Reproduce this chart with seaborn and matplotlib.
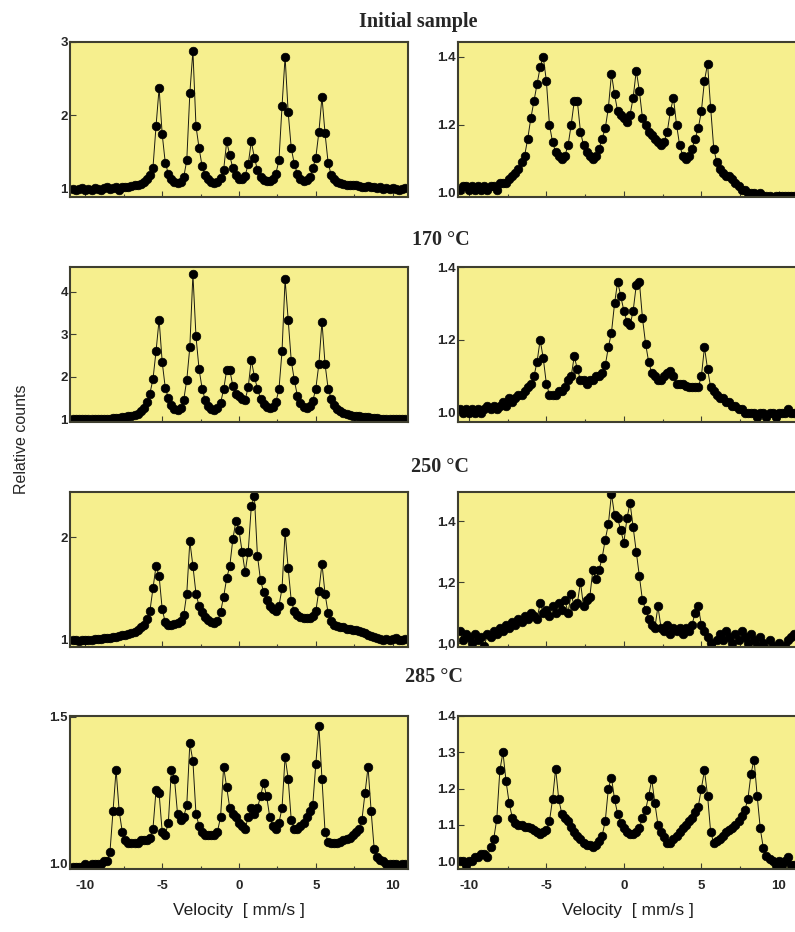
import numpy as np
import pandas as pd
import matplotlib
matplotlib.use("Agg")
import matplotlib.pyplot as plt
import seaborn as sns
from matplotlib.ticker import FixedLocator, MultipleLocator

# ---------------- data (relative counts) ----------------
# velocity channels: left column starts at -10.8 mm/s, right column at -10.6 mm/s, step 0.2 mm/s
left_v_start = -10.8
right_v_start = -10.6
v_step = 0.2

initial_left = [0.99, 0.98, 0.99, 1.00, 0.98, 0.99, 0.98, 1.00, 0.99, 0.98,
                1.00, 1.01, 0.99, 1.00, 1.01, 0.98, 1.01, 1.02, 1.02, 1.03,
                1.04, 1.05, 1.06, 1.08, 1.12, 1.18, 1.28, 1.85, 2.37, 1.74,
                1.35, 1.20, 1.12, 1.08, 1.07, 1.09, 1.15, 1.38, 2.30, 2.88,
                1.85, 1.55, 1.30, 1.18, 1.12, 1.08, 1.07, 1.09, 1.14, 1.25,
                1.64, 1.45, 1.27, 1.18, 1.13, 1.12, 1.17, 1.33, 1.64, 1.42,
                1.25, 1.15, 1.11, 1.10, 1.10, 1.13, 1.20, 1.38, 2.12, 2.80,
                2.04, 1.55, 1.33, 1.20, 1.13, 1.10, 1.11, 1.15, 1.27, 1.42,
                1.77, 2.25, 1.75, 1.35, 1.18, 1.12, 1.09, 1.07, 1.06, 1.05,
                1.05, 1.04, 1.04, 1.03, 1.02, 1.02, 1.03, 1.01, 1.01, 1.00,
                1.01, 0.99, 1.00, 0.99, 1.00, 0.99, 0.98, 0.99, 1.00]

initial_right = [1.01, 1.02, 1.02, 1.01, 1.02, 1.01, 1.02, 1.01, 1.02, 1.01,
                 1.02, 1.02, 1.01, 1.03, 1.03, 1.03, 1.04, 1.05, 1.06, 1.07,
                 1.09, 1.11, 1.16, 1.22, 1.27, 1.32, 1.37, 1.40, 1.33, 1.20,
                 1.15, 1.12, 1.11, 1.10, 1.11, 1.14, 1.20, 1.27, 1.27, 1.18,
                 1.14, 1.12, 1.11, 1.10, 1.11, 1.13, 1.16, 1.19, 1.25, 1.35,
                 1.29, 1.24, 1.23, 1.22, 1.21, 1.23, 1.28, 1.36, 1.30, 1.22,
                 1.20, 1.18, 1.17, 1.16, 1.15, 1.14, 1.15, 1.18, 1.24, 1.28,
                 1.20, 1.14, 1.11, 1.10, 1.11, 1.13, 1.16, 1.19, 1.24, 1.33,
                 1.38, 1.25, 1.13, 1.09, 1.07, 1.06, 1.05, 1.05, 1.04, 1.03,
                 1.02, 1.01, 1.01, 1.00, 1.00, 1.00, 0.99, 1.00, 0.99, 0.99,
                 0.99, 0.98, 0.99, 0.99, 0.99, 0.99, 0.99, 0.99, 0.99]

t170_left = [1.00, 0.99, 1.00, 0.99, 1.00, 1.00, 1.01, 1.00, 1.01, 1.00,
             1.01, 1.00, 1.01, 1.02, 1.02, 1.03, 1.04, 1.05, 1.06, 1.08,
             1.10, 1.13, 1.18, 1.25, 1.40, 1.60, 1.94, 2.60, 3.35, 2.35,
             1.74, 1.50, 1.33, 1.24, 1.21, 1.25, 1.45, 1.92, 2.70, 4.42,
             2.95, 2.18, 1.72, 1.45, 1.30, 1.24, 1.22, 1.26, 1.38, 1.70,
             2.16, 2.16, 1.78, 1.60, 1.55, 1.48, 1.45, 1.75, 2.40, 2.00,
             1.72, 1.48, 1.35, 1.28, 1.25, 1.28, 1.40, 1.70, 2.60, 4.30,
             3.35, 2.38, 1.92, 1.55, 1.38, 1.28, 1.26, 1.30, 1.42, 1.72,
             2.30, 3.30, 2.30, 1.72, 1.48, 1.32, 1.24, 1.18, 1.14, 1.12,
             1.10, 1.08, 1.07, 1.06, 1.05, 1.04, 1.04, 1.03, 1.02, 1.02,
             1.01, 1.01, 1.00, 1.01, 1.00, 1.01, 1.00, 1.00, 1.01]

t170_right = [1.01, 1.00, 1.01, 1.00, 1.01, 1.00, 1.01, 1.00, 1.01, 1.02,
              1.01, 1.02, 1.01, 1.02, 1.03, 1.02, 1.04, 1.03, 1.04, 1.05,
              1.05, 1.06, 1.07, 1.08, 1.10, 1.14, 1.20, 1.15, 1.08, 1.05,
              1.05, 1.05, 1.06, 1.06, 1.07, 1.09, 1.10, 1.155, 1.12, 1.09,
              1.09, 1.08, 1.09, 1.09, 1.10, 1.10, 1.11, 1.13, 1.18, 1.22,
              1.30, 1.36, 1.32, 1.28, 1.25, 1.24, 1.28, 1.35, 1.36, 1.26,
              1.19, 1.14, 1.11, 1.10, 1.09, 1.09, 1.10, 1.11, 1.115, 1.10,
              1.08, 1.08, 1.08, 1.075, 1.07, 1.07, 1.07, 1.07, 1.10, 1.18,
              1.12, 1.07, 1.06, 1.05, 1.04, 1.04, 1.03, 1.03, 1.02, 1.02,
              1.01, 1.01, 1.00, 1.00, 1.00, 1.00, 0.99, 1.00, 1.00, 0.99,
              1.00, 1.00, 0.99, 1.00, 1.00, 1.00, 1.01, 1.00, 1.00]

t250_left = [1.00, 1.00, 0.99, 1.00, 1.00, 1.00, 1.00, 1.01, 1.01, 1.01,
             1.02, 1.02, 1.02, 1.03, 1.03, 1.04, 1.05, 1.05, 1.06, 1.07,
             1.08, 1.10, 1.12, 1.14, 1.20, 1.28, 1.50, 1.72, 1.62, 1.30,
             1.17, 1.14, 1.14, 1.15, 1.16, 1.18, 1.24, 1.45, 1.96, 1.72,
             1.45, 1.33, 1.27, 1.22, 1.19, 1.17, 1.16, 1.18, 1.27, 1.42,
             1.60, 1.72, 1.98, 2.16, 2.07, 1.86, 1.66, 1.86, 2.30, 2.40,
             1.82, 1.58, 1.47, 1.39, 1.33, 1.30, 1.28, 1.33, 1.50, 2.05,
             1.70, 1.38, 1.28, 1.24, 1.22, 1.21, 1.21, 1.21, 1.23, 1.28,
             1.48, 1.74, 1.45, 1.26, 1.18, 1.14, 1.13, 1.12, 1.12, 1.11,
             1.11, 1.10, 1.10, 1.09, 1.08, 1.07, 1.05, 1.04, 1.03, 1.02,
             1.01, 1.00, 1.01, 1.00, 1.01, 1.02, 1.00, 1.00, 1.01]

t250_right = [1.04, 1.01, 1.03, 1.02, 1.00, 1.03, 1.01, 1.02, 0.99, 1.03,
              1.02, 1.04, 1.03, 1.05, 1.04, 1.06, 1.05, 1.07, 1.06, 1.08,
              1.07, 1.09, 1.08, 1.10, 1.09, 1.08, 1.13, 1.10, 1.11, 1.09,
              1.12, 1.10, 1.13, 1.11, 1.14, 1.10, 1.16, 1.12, 1.13, 1.20,
              1.12, 1.14, 1.15, 1.24, 1.21, 1.24, 1.28, 1.34, 1.39, 1.49,
              1.42, 1.41, 1.37, 1.33, 1.41, 1.46, 1.38, 1.30, 1.22, 1.14,
              1.11, 1.08, 1.06, 1.05, 1.12, 1.05, 1.04, 1.06, 1.03, 1.05,
              1.04, 1.05, 1.03, 1.05, 1.04, 1.06, 1.10, 1.12, 1.06, 1.04,
              1.02, 1.00, 0.97, 1.01, 1.03, 1.01, 1.04, 1.02, 1.00, 1.03,
              1.01, 1.04, 1.02, 1.00, 1.03, 1.01, 0.99, 1.02, 1.00, 0.98,
              1.01, 0.99, 0.98, 1.00, 0.97, 0.99, 1.01, 1.02, 1.03]

t285_left = [0.99, 0.99, 0.99, 0.99, 1.00, 0.99, 1.00, 1.00, 1.00, 1.00,
             1.01, 1.01, 1.04, 1.18, 1.32, 1.18, 1.11, 1.08, 1.07, 1.07,
             1.07, 1.07, 1.08, 1.08, 1.08, 1.09, 1.12, 1.25, 1.24, 1.11,
             1.10, 1.14, 1.32, 1.29, 1.17, 1.15, 1.16, 1.20, 1.41, 1.35,
             1.17, 1.13, 1.11, 1.10, 1.10, 1.10, 1.10, 1.11, 1.16, 1.33,
             1.26, 1.19, 1.17, 1.16, 1.14, 1.13, 1.12, 1.16, 1.19, 1.17,
             1.19, 1.23, 1.275, 1.23, 1.16, 1.13, 1.12, 1.14, 1.19, 1.365,
             1.29, 1.15, 1.12, 1.12, 1.13, 1.14, 1.16, 1.18, 1.20, 1.34,
             1.47, 1.29, 1.11, 1.075, 1.07, 1.07, 1.07, 1.075, 1.08, 1.085,
             1.09, 1.10, 1.11, 1.12, 1.15, 1.24, 1.33, 1.18, 1.05, 1.025,
             1.015, 1.01, 1.00, 1.00, 1.00, 1.00, 0.99, 1.00, 1.00]

t285_right = [1.00, 1.00, 0.99, 1.00, 1.00, 1.01, 1.01, 1.02, 1.02, 1.01,
              1.04, 1.06, 1.115, 1.25, 1.30, 1.22, 1.16, 1.12, 1.105, 1.10,
              1.10, 1.095, 1.095, 1.09, 1.085, 1.08, 1.075, 1.08, 1.085, 1.11,
              1.17, 1.255, 1.17, 1.13, 1.12, 1.11, 1.095, 1.08, 1.07, 1.06,
              1.05, 1.045, 1.045, 1.04, 1.045, 1.055, 1.07, 1.11, 1.20, 1.23,
              1.17, 1.13, 1.105, 1.09, 1.08, 1.075, 1.075, 1.08, 1.09, 1.12,
              1.14, 1.18, 1.225, 1.16, 1.10, 1.08, 1.065, 1.05, 1.05, 1.06,
              1.07, 1.08, 1.09, 1.10, 1.11, 1.12, 1.135, 1.15, 1.20, 1.25,
              1.18, 1.08, 1.05, 1.055, 1.06, 1.07, 1.08, 1.085, 1.09, 1.10,
              1.11, 1.125, 1.14, 1.17, 1.24, 1.28, 1.18, 1.09, 1.035, 1.015,
              1.005, 1.00, 0.99, 1.00, 0.99, 1.00, 1.01, 0.99, 0.99]

row_titles = ["Initial sample", "170 \u00b0C", "250 \u00b0C", "285 \u00b0C"]
series = [(initial_left, initial_right), (t170_left, t170_right),
          (t250_left, t250_right), (t285_left, t285_right)]

# ---------------- layout / styling ----------------
sns.set_style("ticks")
plt.rcParams['font.family'] = ['Liberation Sans', 'DejaVu Sans']

W, H = 795, 932
fig = plt.figure(figsize=(W / 100, H / 100), dpi=100)
face = '#f6ef8e'
frame = '#3f3f30'

rows_px = [(42, 197), (267, 422), (492, 647), (716, 869)]
cols_px = [(70, 408), (458, 797)]
xlims = [(-11.0, 11.0), (-10.7, 11.17)]
ylims = [[(0.88, 3.0), (0.988, 1.444)],
         [(0.93, 4.59), (0.975, 1.40)],
         [(0.93, 2.44), (0.987, 1.496)],
         [(0.983, 1.503), (0.978, 1.40)]]
yticks = [[[1, 2, 3], [1.0, 1.2, 1.4]],
          [[1, 2, 3, 4], [1.0, 1.2, 1.4]],
          [[1, 2], [1.0, 1.2, 1.4]],
          [[1.0, 1.5], [1.0, 1.1, 1.2, 1.3, 1.4]]]
ylabels_txt = [[["1", "2", "3"], ["1.0", "1.2", "1.4"]],
               [["1", "2", "3", "4"], ["1.0", "1.2", "1.4"]],
               [["1", "2"], ["1,0", "1,2", "1.4"]],
               [["1.0", "1.5"], ["1.0", "1.1", "1.2", "1.3", "1.4"]]]
title_pos = [(418, 22), (441, 240), (440, 467), (434, 677)]
starts = [left_v_start, right_v_start]

for r, (top, bot) in enumerate(rows_px):
    for c, (lpx, rpx) in enumerate(cols_px):
        ax = fig.add_axes([lpx / W, 1 - bot / H, (rpx - lpx) / W, (bot - top) / H])
        ax.set_facecolor(face)
        y = np.asarray(series[r][c], dtype=float)
        v = starts[c] + v_step * np.arange(len(y))
        df = pd.DataFrame({"velocity": v, "counts": y})
        sns.lineplot(data=df, x="velocity", y="counts", ax=ax, color='#1a1a10',
                     linewidth=0.7, marker='o', markersize=6.2,
                     markeredgecolor='black', markerfacecolor='black',
                     markeredgewidth=0.5, sort=True, errorbar=None)
        ax.set_xlim(*xlims[c])
        ax.set_ylim(*ylims[r][c])
        ax.xaxis.set_major_locator(FixedLocator([-10, -5, 0, 5, 10]))
        ax.xaxis.set_minor_locator(MultipleLocator(2.5))
        ax.yaxis.set_major_locator(FixedLocator(yticks[r][c]))
        ax.set_yticklabels(ylabels_txt[r][c], fontsize=9.5, fontweight='bold')
        ax.tick_params(axis='both', which='both', direction='in', color=frame)
        ax.tick_params(axis='both', which='major', length=4, width=0.8, pad=1.5)
        ax.tick_params(axis='both', which='minor', length=2.5, width=0.8)
        for s in ax.spines.values():
            s.set_color(frame)
            s.set_linewidth(1.5)
        ax.set_ylabel("")
        if r == 3:
            ax.set_xticklabels(["-10", "-5", "0", "5", "10"], fontsize=9.5,
                               fontweight='bold')
            ax.tick_params(axis='x', which='major', pad=8)
            ax.set_xlabel("Velocity  [ mm/s ]", fontsize=12.5, labelpad=8,
                          color='#202020')
        else:
            ax.set_xticklabels([])
            ax.set_xlabel("")
    tx, ty = title_pos[r]
    fig.text(tx / W, 1 - ty / H, row_titles[r], ha='center', va='center',
             family=['Liberation Serif', 'DejaVu Serif'], fontweight='bold',
             fontsize=14.5)

fig.text(22 / W, 1 - 439 / H, "Relative counts", rotation=90, ha='center',
         va='center', fontsize=11.5)

fig.savefig("out.png", dpi=100, facecolor='white')
